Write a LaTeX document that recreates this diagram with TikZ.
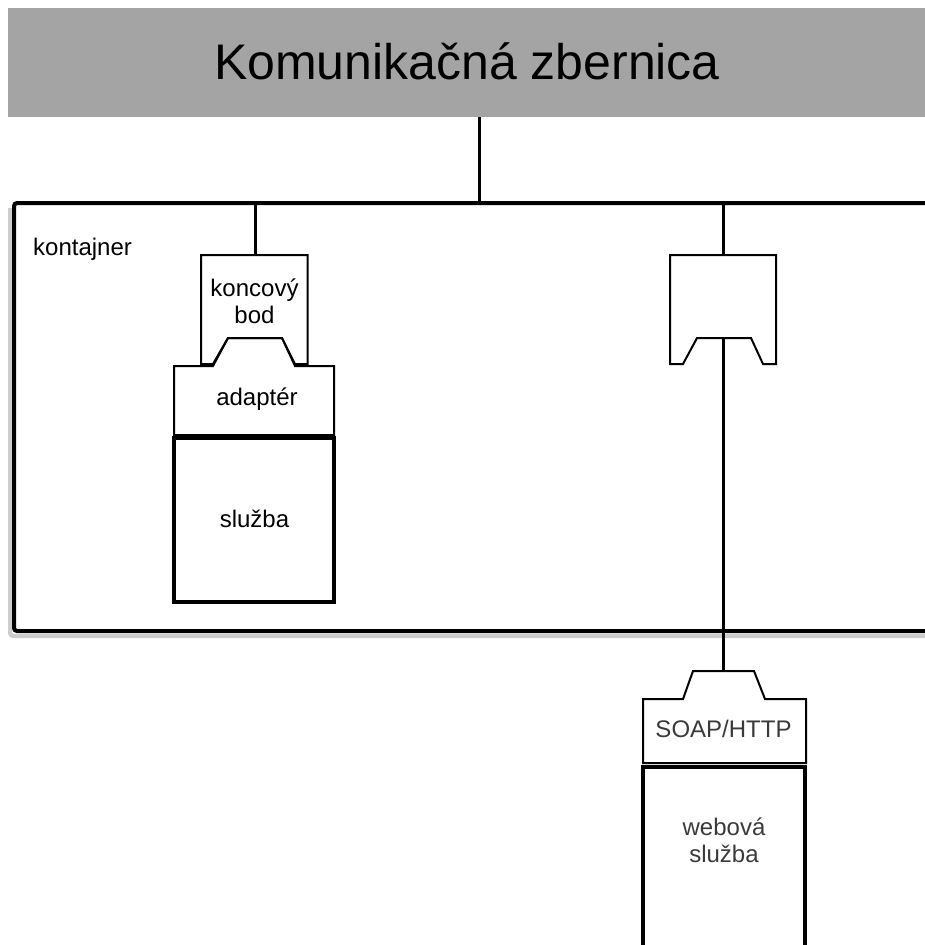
\documentclass[tikz,border=0pt]{standalone}
\usepackage{fontspec}
\setmainfont{Liberation Sans}
\definecolor{busgray}{RGB}{164,164,164}
\definecolor{labelgray}{RGB}{58,58,58}
\definecolor{shadowgray}{RGB}{205,205,205}
\tikzset{
  wire/.style={line width=3pt},
  frame/.style={inner sep=0pt, outer sep=0pt, anchor=north west},
  thinbox/.style={draw, line width=2pt, line join=miter},
  thickbox/.style={draw, line width=4pt, line join=miter},
  txt/.style={font=\fontsize{24}{27}\selectfont, align=center, inner sep=0pt},
}
\begin{document}
\begin{tikzpicture}[x=1pt,y=-1pt]
\useasboundingbox (0,0) rectangle (925,945);

% communication bus
\node[frame, fill=busgray, minimum width=917pt, minimum height=109pt] (bus) at (8,8) {};
\node[font=\fontsize{50}{60}\selectfont, anchor=base, inner sep=0pt] (bustitle) at (467,79) {Komunikačná zbernica};

% container (open to the right), with a faint shadow
\draw[shadowgray, line width=4pt, rounded corners=3pt] (940,636) -- (10,636) -- (10,208);
\draw[line width=4pt, rounded corners=3pt] (940,203) -- (14,203) -- (14,631) -- (940,631);
\node[txt, anchor=base west] (cont) at (33,255) {kontajner};
\coordinate (tapBus) at (479,203);
\coordinate (tapLeft) at (255,203);
\coordinate (tapRight) at (723.5,203);

% endpoint + adapter + service
\node[frame, minimum width=106.5pt, minimum height=109pt] (ep) at (201,255) {};
\draw[thinbox] (ep.south west) -- (ep.north west) -- (ep.north east) -- (ep.south east)
  -- ++(-12.5,0) -- ++(-13,-26) -- ++(-54,0) -- ++(-15,26) -- cycle;
\node[txt] (eptext) at (254.5,301.5) {koncový\\bod};

\node[frame, minimum width=160pt, minimum height=69pt] (adp) at (174,366) {};
\draw[thinbox] (adp.north west) -- ++(39,0) -- ++(15,-28) -- ++(54,0) -- ++(13,28)
  -- (adp.north east) -- (adp.south east) -- (adp.south west) -- cycle;
\node[txt, anchor=base] (adptext) at (257,405) {adaptér};

\node[frame, minimum width=160pt, minimum height=164pt] (svc) at (174,438) {};
\draw[thickbox] (svc.north west) rectangle (svc.south east);
\node[txt, anchor=base] (svctext) at (254.5,527) {služba};

% second endpoint
\node[frame, minimum width=106pt, minimum height=109pt] (ep2) at (670,255) {};
\draw[thinbox] (ep2.south west) -- (ep2.north west) -- (ep2.north east) -- (ep2.south east)
  -- ++(-13,0) -- ++(-12,-26) -- ++(-54,0) -- ++(-14,26) -- cycle;
\coordinate (ep2notch) at (723.5,338);

% SOAP/HTTP binding + web service
\node[frame, minimum width=163pt, minimum height=64pt] (soap) at (643,699) {};
\draw[thinbox] (soap.north west) -- ++(40,0) -- ++(10,-28) -- ++(61,0) -- ++(11,28)
  -- (soap.north east) -- (soap.south east) -- (soap.south west) -- cycle;
\coordinate (soapbump) at (723.5,671);
\node[txt, anchor=base, text=labelgray] (soaptext) at (723.5,737) {SOAP/HTTP};

\node[frame, minimum width=162pt, minimum height=200pt] (web) at (643,767) {};
\draw[thickbox] (web.north west) rectangle (web.south east);
\node[txt, text=labelgray] (webtext) at (724,840) {webová\\služba};

% connectors
\draw[wire] (bus.south -| tapBus) -- (tapBus);
\draw[wire] (tapLeft) -- (tapLeft |- ep.north);
\draw[wire] (tapRight) -- (tapRight |- ep2.north);
\draw[wire] (ep2notch) -- (soapbump);
\end{tikzpicture}
\end{document}
